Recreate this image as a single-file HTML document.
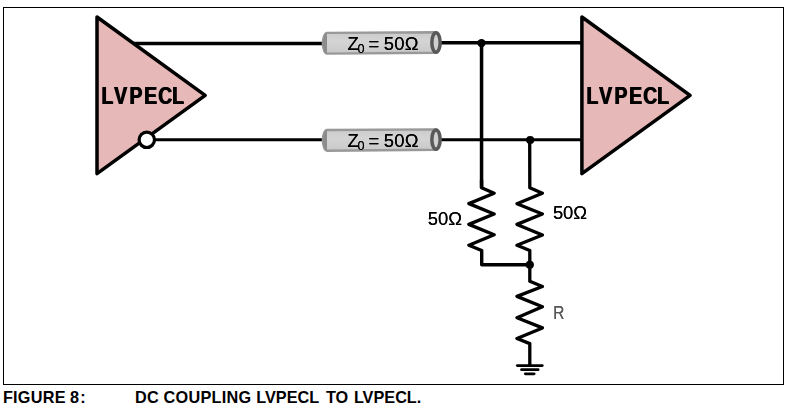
<!DOCTYPE html>
<html><head><meta charset="utf-8">
<style>
html,body{margin:0;padding:0;background:#fff;}
body{width:791px;height:411px;overflow:hidden;position:relative;}
svg{position:absolute;left:0;top:0;display:block;}
text{font-family:"Liberation Sans",sans-serif;}
</style></head><body>
<svg width="791" height="411" viewBox="0 0 791 411">
<defs>
<linearGradient id="cg" x1="0" y1="0" x2="0" y2="1">
<stop offset="0" stop-color="#cbcbcb"/><stop offset="0.4" stop-color="#d4d4d4"/><stop offset="1" stop-color="#c9c9c9"/>
</linearGradient>
<filter id="th" x="-5%" y="-10%" width="110%" height="120%"><feOffset in="SourceGraphic" dx="0.8" dy="0" result="o"/><feMerge><feMergeNode in="SourceGraphic"/><feMergeNode in="o"/></feMerge></filter>
<filter id="th2" x="-10%" y="-10%" width="120%" height="120%"><feOffset in="SourceGraphic" dx="0.45" dy="0" result="o"/><feMerge><feMergeNode in="SourceGraphic"/><feMergeNode in="o"/></feMerge></filter>
<filter id="th3" x="-5%" y="-20%" width="110%" height="140%"><feOffset in="SourceGraphic" dx="0.3" dy="0" result="o"/><feMerge><feMergeNode in="SourceGraphic"/><feMergeNode in="o"/></feMerge></filter>
</defs>
<rect x="0" y="0" width="791" height="411" fill="#fff"/>
<rect x="3.5" y="7.5" width="780" height="377" fill="none" stroke="#000" stroke-width="1"/>

<!-- wires -->
<g stroke="#000" fill="none">
<line x1="130" y1="43.4" x2="324" y2="43.4" stroke-width="3.5"/>
<line x1="438" y1="42.75" x2="582" y2="42.75" stroke-width="3.6"/>
<line x1="150" y1="139.7" x2="324" y2="139.7" stroke-width="3.1"/>
<line x1="438" y1="139.7" x2="582" y2="139.7" stroke-width="3.1"/>
<line x1="481.55" y1="42.75" x2="481.55" y2="188" stroke-width="3.5"/>
</g>

<!-- triangles -->
<g stroke="#000" stroke-width="3.5" fill="#e6b8b7" stroke-linejoin="round">
<polygon points="97,17 205.2,95.3 97,173.6"/>
<polygon points="581.9,17 690.1,95.3 581.9,173.6"/>
</g>
<circle cx="146.8" cy="139.8" r="7.7" fill="#fff" stroke="#000" stroke-width="3.2"/>

<!-- cylinders -->
<g id="cyl1">
<path d="M327,32.9 L436,32.3 V52.7 L327,53.6 A4.1,10.35 0 0 1 327,32.9 Z" fill="url(#cg)" stroke="#999" stroke-width="2.4"/>
<path d="M327,32.9 A4.1,10.35 0 0 0 327,53.6 Z" fill="#8c8c8c"/>
<ellipse cx="436" cy="42.5" rx="4.15" ry="9.65" fill="#d0d0d0" stroke="#595959" stroke-width="3.5"/>
</g>
<g id="cyl2" transform="translate(0,97.1)">
<path d="M327,32.9 L436,32.3 V52.7 L327,53.6 A4.1,10.35 0 0 1 327,32.9 Z" fill="url(#cg)" stroke="#999" stroke-width="2.4"/>
<path d="M327,32.9 A4.1,10.35 0 0 0 327,53.6 Z" fill="#8c8c8c"/>
<ellipse cx="436" cy="42.5" rx="4.15" ry="9.65" fill="#d0d0d0" stroke="#595959" stroke-width="3.5"/>
</g>

<!-- resistor network -->
<g stroke="#000" stroke-width="3.1" fill="none" stroke-linejoin="round" stroke-linecap="butt">
<polyline stroke-width="3.4" points="481.55,180 481.6,187.8 494.1,193.2 468.9,203.6 494.1,214 468.9,224.4 494.1,234.8 468.9,245.2 481.7,250.5 481.7,264.8 530,264.8"/>
<polyline stroke-width="3.3" points="529.7,139.8 529.8,187.8 542.4,193.2 517,203.7 542.4,214 517,224.4 542.4,235 517,245.3 529.8,250.6 529.8,281.3 542.4,286.5 517,296.4 542.4,306.8 517,317.7 542.4,327.9 517,338.5 529.8,343.6 529.8,365.5"/>
</g>
<g stroke="#000" stroke-width="2.7" stroke-linecap="round">
<line x1="517.3" y1="365.6" x2="542.3" y2="365.6"/>
<line x1="521.5" y1="369.7" x2="538.2" y2="369.7"/>
<line x1="525.3" y1="373.8" x2="534.2" y2="373.8"/>
</g>
<circle cx="481.5" cy="43.1" r="4.2" fill="#000"/>
<circle cx="530.2" cy="140" r="4.1" fill="#000"/>
<circle cx="529.8" cy="264.8" r="4.1" fill="#000"/>

<!-- labels -->
<text filter="url(#th)" transform="translate(586.11,103.8) scale(0.79,1)" font-size="24.4" font-weight="bold" x="0 16.15 35.32 54.04 71.84 89.37" y="0">LVPECL</text>
<text filter="url(#th)" transform="translate(101.11,103.8) scale(0.79,1)" font-size="24.4" font-weight="bold" x="0 16.15 35.32 54.04 71.84 89.37" y="0">LVPECL</text>

<text filter="url(#th3)" y="49.8" font-size="18.4"><tspan x="347.5">Z</tspan><tspan x="357.47" dy="3" font-size="12.7">0</tspan><tspan dy="-3" x="364 368.43 379 383.8 394.13 404.68"> = 50Ω</tspan></text>
<text filter="url(#th3)" y="146.95" font-size="18.4"><tspan x="347.5">Z</tspan><tspan x="357.47" dy="3" font-size="12.7">0</tspan><tspan dy="-3" x="364 368.43 379 383.8 394.13 404.68"> = 50Ω</tspan></text>

<text filter="url(#th3)" x="427.7" y="224.8" font-size="18.4">50Ω</text>
<text filter="url(#th3)" x="552.9" y="218.8" font-size="18.4">50Ω</text>
<text filter="url(#th2)" transform="translate(553.2,318.7) scale(0.83,1)" x="0" y="0" font-size="18.6" fill="#585858">R</text>

<text y="402.5" font-size="16.25" font-weight="bold" letter-spacing="0.25"><tspan x="2.9">FIGURE</tspan> <tspan x="70.1" letter-spacing="1.2">8:</tspan></text>
<text y="402.5" font-size="16.25" font-weight="bold"><tspan x="134.9" letter-spacing="0.25">DC</tspan> <tspan x="163.6" letter-spacing="0.25">COUPLING</tspan> <tspan x="256.3">LVPECL</tspan> <tspan x="325.9">TO</tspan> <tspan x="353.9">LVPECL.</tspan></text>
</svg>
</body></html>
